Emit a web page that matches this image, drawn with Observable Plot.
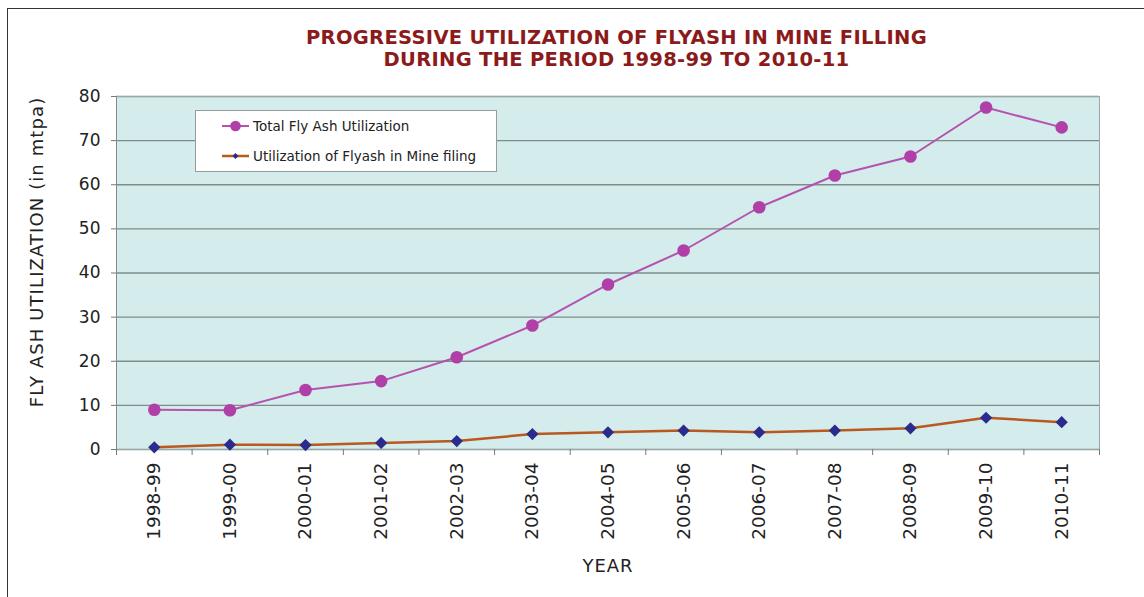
<!DOCTYPE html>
<html>
<head>
<meta charset="utf-8">
<script src="https://cdn.jsdelivr.net/npm/d3@7"></script>
<script src="https://cdn.jsdelivr.net/npm/@observablehq/plot@0.6"></script>
<style>
  html, body { margin: 0; padding: 0; background: #fff; }
  #wrap { position: relative; width: 1144px; height: 597px; overflow: hidden; font-family: "DejaVu Sans", Verdana, sans-serif; }
  #border { position: absolute; left: 7px; top: 8px; width: 1200px; height: 700px; border: 1.5px solid #333; }
  #title { position: absolute; left: 0; top: 27px; width: 1233px; text-align: center; color: #8b1a1a; font-weight: bold; font-size: 19.5px; line-height: 22px; letter-spacing: 0.3px; }
  #chart { position: absolute; left: 0; top: 0; }
  #chart g[aria-label="x-axis label"] text { font-size: 18px; letter-spacing: 1px; }
  #ylabel { position: absolute; left: 37px; top: 252px; transform: translate(-50%, -50%) rotate(-90deg); white-space: nowrap; font-size: 18px; letter-spacing: 1.1px; color: #222; line-height: 18px; }
  #legend { position: absolute; left: 195px; top: 110px; width: 302px; height: 62px; background: #fff; border: 1px solid #9a9a9a; box-sizing: border-box; font-size: 13.5px; color: #222; }
  .row { position: absolute; left: 26px; display: flex; align-items: center; height: 20px; }
  .row span { margin-left: 4px; }
</style>
</head>
<body>
<div id="wrap">
  <div id="border"></div>
  <div id="chart"></div>
  <div id="title">PROGRESSIVE UTILIZATION OF FLYASH IN MINE FILLING<br>DURING THE PERIOD 1998-99 TO 2010-11</div>
  <div id="ylabel"></div>
  <div id="legend"></div>
</div>
<script>
const years = ["1998-99","1999-00","2000-01","2001-02","2002-03","2003-04","2004-05","2005-06","2006-07","2007-08","2008-09","2009-10","2010-11"];
const totalUtilization = [9.0, 8.9, 13.5, 15.5, 20.9, 28.1, 37.4, 45.1, 54.9, 62.1, 66.4, 77.5, 73.0];
const mineFilling = [0.5, 1.1, 1.0, 1.5, 1.9, 3.5, 3.9, 4.3, 3.9, 4.3, 4.8, 7.2, 6.2];
const yTicks = [0, 10, 20, 30, 40, 50, 60, 70, 80];
const seriesNames = ["Total Fly Ash Utilization", "Utilization of Flyash in Mine filing"];
const yLabel = "FLY ASH UTILIZATION (in mtpa)";
const xLabel = "YEAR";

const totalColor = "#b452ae", totalMarker = "#b03fa8";
const mineColor = "#b9581f", mineMarker = "#2b2b8c";

const data = years.map((y, i) => ({i, year: y, total: totalUtilization[i], mine: mineFilling[i]}));
const idx = years.map((_, i) => i);
const bounds = years.concat([""]).map((_, i) => i - 0.5);

const chart = Plot.plot({
  width: 1144, height: 597,
  marginTop: 96, marginBottom: 148, marginLeft: 116, marginRight: 45,
  style: {fontFamily: "DejaVu Sans, Verdana, sans-serif", background: "transparent", color: "#222"},
  x: {domain: [-0.5, years.length - 0.5]},
  y: {domain: [0, 80]},
  marks: [
    Plot.frame({fill: "#d4ecec"}),
    Plot.gridY({ticks: yTicks, stroke: "#7d8c8c", strokeOpacity: 1, strokeWidth: 1.3}),
    Plot.frame({stroke: "#9aa8a8"}),
    Plot.ruleX([-0.5], {stroke: "#888"}),
    Plot.axisY({ticks: yTicks, tickSize: 5, tickPadding: 11, fontSize: 17, stroke: "#777", label: null}),
    Plot.axisX({ticks: bounds, tickSize: 6, stroke: "#777", tickFormat: () => "", label: null}),
    Plot.axisX({ticks: idx, tickSize: 0, tickPadding: 13, tickRotate: -90, fontSize: 18.5,
      tickFormat: i => years[i], label: xLabel, labelAnchor: "center", labelOffset: 122, labelArrow: "none"}),
    Plot.line(data, {x: "i", y: "mine", stroke: mineColor, strokeWidth: 2.5}),
    Plot.dot(data, {x: "i", y: "mine", symbol: "diamond2", r: 5.5, fill: mineMarker, stroke: "none"}),
    Plot.line(data, {x: "i", y: "total", stroke: totalColor, strokeWidth: 2}),
    Plot.dot(data, {x: "i", y: "total", r: 6.3, fill: totalMarker, stroke: "none"})
  ]
});
document.getElementById("chart").appendChild(chart);
document.getElementById("ylabel").textContent = yLabel;

const legend = document.getElementById("legend");
[[totalColor, totalMarker, "circle"], [mineColor, mineMarker, "diamond"]].forEach(([lc, mc, shape], k) => {
  const row = document.createElement("div");
  row.className = "row";
  row.style.top = (k === 0 ? 5 : 35) + "px";
  const sw = shape === "circle"
    ? `<svg width="27" height="14"><line x1="0" y1="7" x2="27" y2="7" stroke="${lc}" stroke-width="2"/><circle cx="13.5" cy="7" r="5.3" fill="${mc}"/></svg>`
    : `<svg width="27" height="14"><line x1="0" y1="7" x2="27" y2="7" stroke="${lc}" stroke-width="2.5"/><path d="M13.5 4 L16.5 7 L13.5 10 L10.5 7Z" fill="${mc}"/></svg>`;
  row.innerHTML = sw + `<span>${seriesNames[k]}</span>`;
  legend.appendChild(row);
});
</script>
</body>
</html>
